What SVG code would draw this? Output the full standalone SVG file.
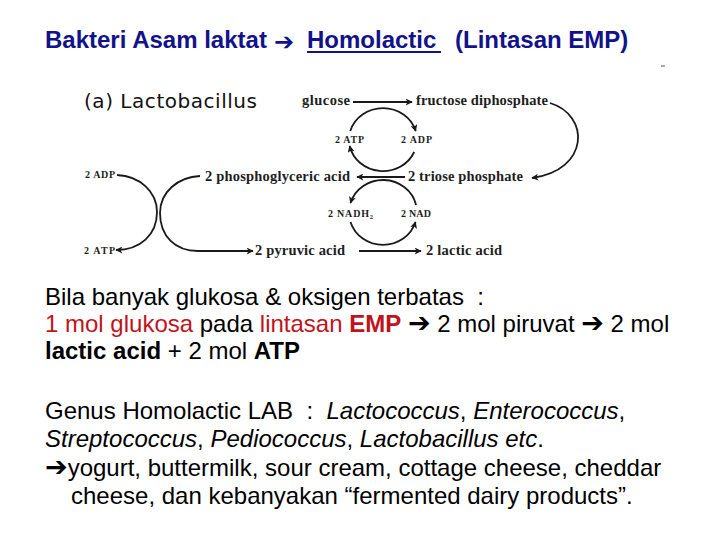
<svg xmlns="http://www.w3.org/2000/svg" width="720" height="540" viewBox="0 0 720 540">
<style>
.title{font-family:"Liberation Sans",Arial,sans-serif;font-size:24px;font-weight:bold;fill:#12128a;white-space:pre}
.body{font-family:"Liberation Sans",Arial,sans-serif;font-size:24px;fill:#000;white-space:pre}
.red{fill:#c0141c}
.b{font-weight:bold}
.i{font-style:italic}
.arw{font-family:"DejaVu Sans",sans-serif;font-weight:bold}
.barw{font-family:"DejaVu Sans",sans-serif;font-weight:bold;font-size:27px}
.lbl{font-family:"Liberation Serif","Times New Roman",serif;font-size:14.5px;font-weight:bold;fill:#1e1e1e}
.sm{font-family:"Liberation Serif","Times New Roman",serif;font-size:10px;font-weight:bold;fill:#1e1e1e}
.head{font-family:"DejaVu Sans","Liberation Sans",sans-serif;font-size:20px;fill:#111}
.ln{fill:none;stroke:#1a1a1a;stroke-width:1.8}
</style>
<defs>
<marker id="ah" viewBox="0 0 10 10" refX="9" refY="5" markerWidth="8" markerHeight="7" markerUnits="userSpaceOnUse" orient="auto">
<path d="M0,0 L10,5 L0,10 L2.5,5 Z" fill="#1a1a1a"/>
</marker>
</defs>
<rect width="720" height="540" fill="#fff"/>

<g id="title">
<text class="title" x="45" y="48">Bakteri Asam laktat</text>
<text class="title arw" x="274" y="50" font-size="33">➔</text>
<text class="title" x="307" y="48">Homolactic</text>
<text class="title" x="455" y="48">(Lintasan EMP)</text>
<line x1="307" y1="52" x2="441" y2="52" stroke="#12128a" stroke-width="2"/>
<line x1="661" y1="66" x2="665" y2="66" stroke="#555" stroke-width="1"/>
</g>

<g id="diagram-title"><text class="head" x="84" y="108" textLength="173">(a) Lactobacillus</text></g>

<g id="n-glucose"><text class="lbl" x="302" y="105" textLength="48">glucose</text></g>
<g id="n-fdp"><text class="lbl" x="416" y="105" textLength="132">fructose diphosphate</text></g>
<g id="n-triose"><text class="lbl" x="408" y="181" textLength="115">2 triose phosphate</text></g>
<g id="n-pga"><text class="lbl" x="205" y="181" textLength="145">2 phosphoglyceric acid</text></g>
<g id="n-pyruvic"><text class="lbl" x="255" y="255" textLength="90">2 pyruvic acid</text></g>
<g id="n-lactic"><text class="lbl" x="426" y="255" textLength="76">2 lactic acid</text></g>
<g id="n-atp1"><text class="sm" x="335" y="143" textLength="29">2 ATP</text></g>
<g id="n-adp1"><text class="sm" x="401" y="143" textLength="31">2 ADP</text></g>
<g id="n-nadh"><text class="sm" x="328" y="217" textLength="45">2 NADH<tspan font-size="6.5" dy="2">2</tspan></text></g>
<g id="n-nad"><text class="sm" x="401" y="217" textLength="30">2 NAD</text></g>
<g id="n-adp2"><text class="sm" x="85" y="178" textLength="30">2 ADP</text></g>
<g id="n-atp2"><text class="sm" x="84" y="254" textLength="31">2 ATP</text></g>

<g id="connectors">
<path class="ln" d="M353,102 H412" marker-end="url(#ah)"/>
<path class="ln" d="M550,103 C590,115 590,170 532,178" marker-end="url(#ah)"/>
<path class="ln" d="M405,177 H357" marker-end="url(#ah)"/>
<path class="ln" d="M359,251 H421" marker-end="url(#ah)"/>
<path class="ln" d="M350.3,131 A34,31.5 0 0 1 415.7,131" marker-end="url(#ah)"/>
<path class="ln" d="M414.2,152 A34,31.5 0 0 1 349.7,146" marker-end="url(#ah)"/>
<path class="ln" d="M416.1,205 A34,32.5 0 0 0 350.5,203" marker-end="url(#ah)"/>
<path class="ln" d="M350.5,222 A34,32.5 0 0 0 415.5,222" marker-end="url(#ah)"/>
<path class="ln" d="M117,175 C140,176 157,192 157,212 C157,235 140,250 116,250" marker-end="url(#ah)"/>
<path class="ln" d="M200,176 C178,177 160,192 160,213 C160,236 175,251 198,251 H253" marker-end="url(#ah)"/>
</g>

<g id="text-body">
<text class="body" x="45" y="305">Bila banyak glukosa &amp; oksigen terbatas  :</text>
<text class="body" x="45" y="332"><tspan class="red">1 mol glukosa</tspan> pada <tspan class="red">lintasan </tspan><tspan class="red b">EMP</tspan> <tspan class="barw">➔</tspan> 2 mol piruvat <tspan class="barw">➔</tspan> 2 mol</text>
<text class="body" x="45" y="359"><tspan class="b">lactic acid</tspan> + 2 mol <tspan class="b">ATP</tspan></text>
<text class="body" x="45" y="419">Genus Homolactic LAB  :  <tspan class="i">Lactococcus</tspan>, <tspan class="i">Enterococcus</tspan>,</text>
<text class="body" x="45" y="447"><tspan class="i">Streptococcus</tspan>, <tspan class="i">Pediococcus</tspan>, <tspan class="i">Lactobacillus etc</tspan>.</text>
<text class="body" x="45" y="476"><tspan class="barw">➔</tspan>yogurt, buttermilk, sour cream, cottage cheese, cheddar</text>
<text class="body" x="71" y="504">cheese, dan kebanyakan “fermented dairy products”.</text>
</g>
</svg>
